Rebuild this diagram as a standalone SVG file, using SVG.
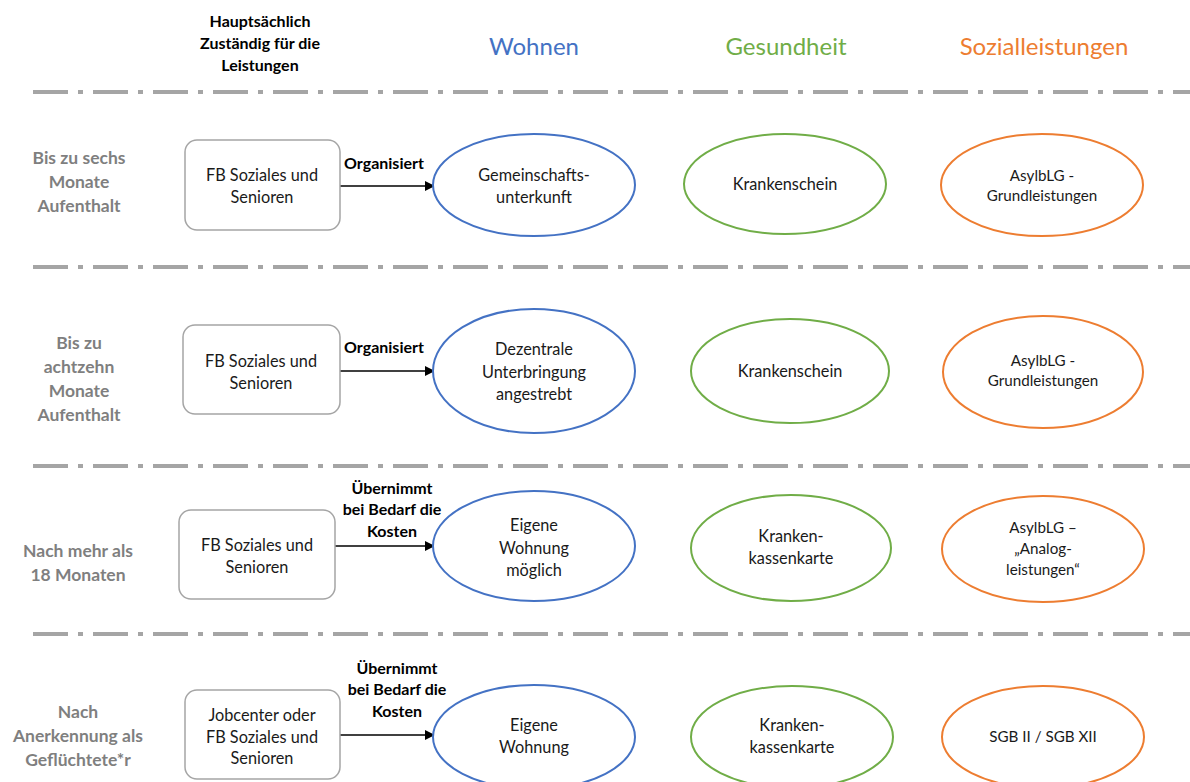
<svg xmlns="http://www.w3.org/2000/svg" width="1190" height="782" viewBox="0 0 1190 782">
<style>
text{font-family:Lato,"Open Sans","Liberation Sans",sans-serif;text-anchor:middle;}
.hd{font-size:16px;font-weight:bold;fill:#000}
.cat{font-size:24px;}
.row{font-size:17.5px;font-weight:bold;fill:#7F7F7F}
.t{font-size:16.3px;fill:#1a1a1a}
.s{font-size:15.2px}
.lbl{font-size:16px;font-weight:bold;fill:#000}
.sep{stroke:#A5A5A5;stroke-width:4;stroke-dasharray:35 10 5 10;fill:none}
.box{fill:#fff;stroke:#A5A5A5;stroke-width:1.5}
.eb{fill:#fff;stroke:#4472C4;stroke-width:2}
.eg{fill:#fff;stroke:#70AD47;stroke-width:2}
.eo{fill:#fff;stroke:#ED7D31;stroke-width:2}
.conn{stroke:#000;stroke-width:1.5;fill:none}
</style>
<defs>
<marker id="ah" markerWidth="10" markerHeight="10" refX="9" refY="5" orient="auto" markerUnits="userSpaceOnUse">
<path d="M0,0 L10,5 L0,10 Z" fill="#000"/>
</marker>
</defs>
<rect width="1190" height="782" fill="#fff"/>
<g id="header">
<text class="hd" x="260" y="27">Hauptsächlich</text>
<text class="hd" x="260" y="49">Zuständig für die</text>
<text class="hd" x="260" y="71">Leistungen</text>
<text class="cat" x="534" y="55" fill="#4472C4">Wohnen</text>
<text class="cat" x="786" y="55" fill="#70AD47">Gesundheit</text>
<text class="cat" x="1044" y="55" fill="#ED7D31">Sozialleistungen</text>
</g>
<g id="separators">
<line class="sep" x1="33" y1="92" x2="1190" y2="92"/>
<line class="sep" x1="33" y1="267" x2="1190" y2="267"/>
<line class="sep" x1="33" y1="466" x2="1190" y2="466"/>
<line class="sep" x1="33" y1="634" x2="1190" y2="634"/>
</g>
<g id="row-labels">
<text class="row" x="79" y="164">Bis zu sechs</text>
<text class="row" x="79" y="188">Monate</text>
<text class="row" x="79" y="212">Aufenthalt</text>
<text class="row" x="79" y="349">Bis zu</text>
<text class="row" x="79" y="373">achtzehn</text>
<text class="row" x="79" y="397">Monate</text>
<text class="row" x="79" y="421">Aufenthalt</text>
<text class="row" x="78" y="557">Nach mehr als</text>
<text class="row" x="78" y="581">18 Monaten</text>
<text class="row" x="78" y="718">Nach</text>
<text class="row" x="78" y="742">Anerkennung als</text>
<text class="row" x="78" y="766">Geflüchtete*r</text>
</g>
<g id="connectors">
<line class="conn" x1="340" y1="186" x2="434" y2="186" marker-end="url(#ah)"/>
<text class="lbl" x="384" y="169">Organisiert</text>
<line class="conn" x1="340" y1="371" x2="434" y2="371" marker-end="url(#ah)"/>
<text class="lbl" x="384" y="353">Organisiert</text>
<line class="conn" x1="335" y1="546" x2="434" y2="546" marker-end="url(#ah)"/>
<text class="lbl" x="392" y="494">Übernimmt</text>
<text class="lbl" x="392" y="515">bei Bedarf die</text>
<text class="lbl" x="392" y="537">Kosten</text>
<line class="conn" x1="340" y1="735" x2="434" y2="735" marker-end="url(#ah)"/>
<text class="lbl" x="397" y="674">Übernimmt</text>
<text class="lbl" x="397" y="695">bei Bedarf die</text>
<text class="lbl" x="397" y="717">Kosten</text>
</g>
<g id="box1"><rect class="box" x="185" y="140" width="155" height="90" rx="12"/>
<text class="t" x="262" y="181">FB Soziales und</text><text class="t" x="262" y="203">Senioren</text></g>
<g id="box2"><rect class="box" x="183" y="325" width="157" height="89" rx="12"/>
<text class="t" x="261" y="367">FB Soziales und</text><text class="t" x="261" y="389">Senioren</text></g>
<g id="box3"><rect class="box" x="179" y="510" width="156" height="89" rx="12"/>
<text class="t" x="257" y="551">FB Soziales und</text><text class="t" x="257" y="573">Senioren</text></g>
<g id="box4"><rect class="box" x="185" y="690" width="155" height="89" rx="12"/>
<text class="t" x="262" y="721">Jobcenter oder</text><text class="t" x="262" y="743">FB Soziales und</text><text class="t" x="262" y="764">Senioren</text></g>
<g id="wohnen1"><ellipse class="eb" cx="534" cy="185" rx="101" ry="51"/>
<text class="t" x="534" y="181">Gemeinschafts-</text><text class="t" x="534" y="203">unterkunft</text></g>
<g id="gesund1"><ellipse class="eg" cx="785" cy="184" rx="101" ry="50"/>
<text class="t" x="785" y="190">Krankenschein</text></g>
<g id="sozial1"><ellipse class="eo" cx="1042" cy="185" rx="101" ry="51"/>
<text class="t s" x="1042" y="181">AsylbLG -</text><text class="t s" x="1042" y="201">Grundleistungen</text></g>
<g id="wohnen2"><ellipse class="eb" cx="534" cy="371" rx="101" ry="62"/>
<text class="t" x="534" y="355">Dezentrale</text><text class="t" x="534" y="378">Unterbringung</text><text class="t" x="534" y="400">angestrebt</text></g>
<g id="gesund2"><ellipse class="eg" cx="790" cy="371" rx="99" ry="52"/>
<text class="t" x="790" y="377">Krankenschein</text></g>
<g id="sozial2"><ellipse class="eo" cx="1043" cy="372" rx="100" ry="56"/>
<text class="t s" x="1043" y="366">AsylbLG -</text><text class="t s" x="1043" y="386">Grundleistungen</text></g>
<g id="wohnen3"><ellipse class="eb" cx="534" cy="546" rx="101" ry="55"/>
<text class="t" x="534" y="531">Eigene</text><text class="t" x="534" y="554">Wohnung</text><text class="t" x="534" y="576">möglich</text></g>
<g id="gesund3"><ellipse class="eg" cx="791" cy="548" rx="100" ry="53"/>
<text class="t" x="791" y="542">Kranken-</text><text class="t" x="791" y="564">kassenkarte</text></g>
<g id="sozial3"><ellipse class="eo" cx="1043" cy="549" rx="101" ry="53"/>
<text class="t s" x="1043" y="533">AsylbLG –</text><text class="t s" x="1043" y="554">„Analog-</text><text class="t s" x="1043" y="575">leistungen“</text></g>
<g id="wohnen4"><ellipse class="eb" cx="534" cy="737" rx="101" ry="52"/>
<text class="t" x="534" y="731">Eigene</text><text class="t" x="534" y="753">Wohnung</text></g>
<g id="gesund4"><ellipse class="eg" cx="792" cy="737" rx="101" ry="51"/>
<text class="t" x="792" y="731">Kranken-</text><text class="t" x="792" y="753">kassenkarte</text></g>
<g id="sozial4"><ellipse class="eo" cx="1043" cy="737" rx="101" ry="51"/>
<text class="t s" x="1043" y="742">SGB II / SGB XII</text></g>
</svg>
